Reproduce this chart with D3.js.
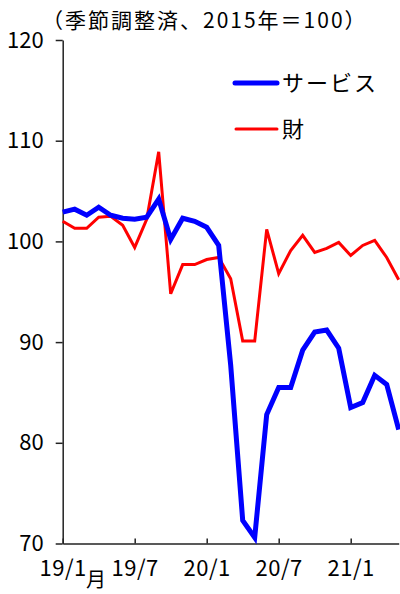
<!DOCTYPE html>
<html>
<head>
<meta charset="utf-8">
<script src="https://cdn.jsdelivr.net/npm/d3@7"></script>
<style>
  html, body { margin: 0; padding: 0; background: #fff; }
  svg { display: block; font-family: "Noto Sans CJK JP", "Noto Sans", sans-serif; }
</style>
</head>
<body>
<svg id="chart" width="400" height="594"></svg>
<script>
// Monthly index, 2019/1 – 2021/5 (seasonally adjusted, 2015 = 100)
const months = d3.range(29); // 0 = 2019/1
const services = [102.9, 103.2, 102.6, 103.4, 102.6, 102.3, 102.2, 102.4, 104.2, 100.2,
                  102.3, 102.0, 101.4, 99.6, 87.7, 72.3, 70.6, 82.8, 85.5, 85.5,
                  89.2, 91.0, 91.2, 89.4, 83.5, 84.0, 86.7, 85.8, 81.3];
const goods    = [102.0, 101.3, 101.3, 102.4, 102.5, 101.6, 99.4, 102.2, 108.9, 94.8,
                  97.7, 97.7, 98.2, 98.4, 96.3, 90.1, 90.1, 101.2, 96.8, 99.1,
                  100.6, 98.9, 99.3, 99.9, 98.6, 99.6, 100.1, 98.4, 96.2];
const xTickValues = [0, 6, 12, 18, 24];
const xTickLabels = ["19/1", "19/7", "20/1", "20/7", "21/1"];
const yTickValues = [70, 80, 90, 100, 110, 120];
const seriesNames = ["サービス", "財"];
const seriesColors = ["#0000ff", "#ff0000"];

const svg = d3.select("#chart");
const plotLeft = 62.7, plotRight = 398.7, plotTop = 40, plotBottom = 543.5;

const x = d3.scaleLinear().domain([0, 28]).range([plotLeft, plotRight]);
const y = d3.scaleLinear().domain([70, 120]).range([plotBottom, plotTop]);

// Y axis
const yAxis = svg.append("g")
  .attr("transform", `translate(${plotLeft},0)`)
  .call(d3.axisLeft(y).tickValues(yTickValues).tickSize(7).tickSizeOuter(0).tickPadding(12));
yAxis.select(".domain").attr("stroke", "#222").attr("stroke-width", 1.5);
yAxis.selectAll(".tick line").attr("stroke", "#222").attr("stroke-width", 1.5);
yAxis.selectAll(".tick text").attr("font-size", 22).attr("fill", "#000")
  .attr("font-family", "Noto Sans CJK JP");

// X axis (ticks point inward)
const xAxis = svg.append("g")
  .attr("transform", `translate(0,${plotBottom})`)
  .call(d3.axisBottom(x).tickValues(xTickValues)
    .tickFormat((d, i) => xTickLabels[i]).tickSize(-5).tickSizeOuter(0).tickPadding(17));
xAxis.select(".domain").attr("stroke", "#222").attr("stroke-width", 1.5);
xAxis.selectAll(".tick line").attr("stroke", "#222").attr("stroke-width", 1.5);
xAxis.selectAll(".tick text").attr("font-size", 22).attr("fill", "#000")
  .attr("font-family", "Noto Sans CJK JP").attr("letter-spacing", 0.5);

// Month unit label
svg.append("text").attr("x", 96).attr("y", 587).attr("text-anchor", "middle")
  .attr("font-size", 20).attr("fill", "#000").text("月");

// Title / unit note
svg.append("text").attr("x", 42).attr("y", 28)
  .attr("font-size", 21).attr("letter-spacing", 2).attr("fill", "#000")
  .text("（季節調整済、2015年＝100）");

// Lines
const line = d3.line().x((d, i) => x(months[i])).y(d => y(d));
svg.append("path").datum(goods).attr("d", line)
  .attr("fill", "none").attr("stroke", seriesColors[1]).attr("stroke-width", 3)
  .attr("stroke-linejoin", "miter");
svg.append("path").datum(services).attr("d", line)
  .attr("fill", "none").attr("stroke", seriesColors[0]).attr("stroke-width", 5)
  .attr("stroke-linejoin", "miter");

// Legend
const legend = svg.append("g");
const legendRows = [{y: 83, w: 5, x0: 235}, {y: 129, w: 3, x0: 236}];
legendRows.forEach((r, i) => {
  legend.append("line").attr("x1", r.x0).attr("x2", 277).attr("y1", r.y).attr("y2", r.y)
    .attr("stroke", seriesColors[i]).attr("stroke-width", r.w).attr("stroke-linecap", "round");
  legend.append("text").attr("x", 282).attr("y", r.y).attr("dy", "0.36em")
    .attr("font-size", 22).attr("letter-spacing", 2).attr("fill", "#000").text(seriesNames[i]);
});
</script>
</body>
</html>
